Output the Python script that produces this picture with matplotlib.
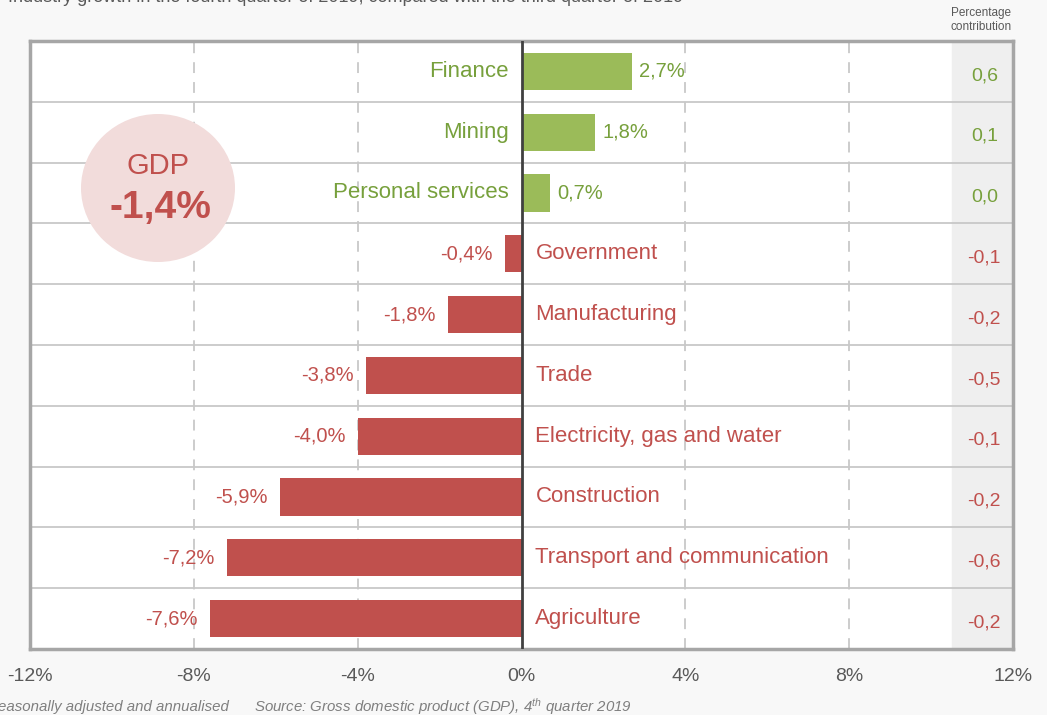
import numpy as np
import matplotlib
matplotlib.use("Agg")
import matplotlib.pyplot as plt
from matplotlib.patches import Ellipse

plt.rcParams['font.family'] = ['Liberation Sans', 'DejaVu Sans']
plt.rcParams['mathtext.fontset'] = 'custom'
plt.rcParams['mathtext.it'] = 'Liberation Sans:italic'
plt.rcParams['mathtext.rm'] = 'Liberation Sans:italic'

# --- data ---
industries = ["Finance", "Mining", "Personal services", "Government", "Manufacturing",
              "Trade", "Electricity, gas and water", "Construction",
              "Transport and communication", "Agriculture"]
growth = [2.7, 1.8, 0.7, -0.4, -1.8, -3.8, -4.0, -5.9, -7.2, -7.6]
contribution = [0.6, 0.1, 0.0, -0.1, -0.2, -0.5, -0.1, -0.2, -0.6, -0.2]
gdp = -1.4
xticks = [-12, -8, -4, 0, 4, 8, 12]

green_bar = '#9bbb59'
green_txt = '#77a03c'
red_bar = '#c0504d'
red_txt = '#c0504d'
grey_txt = '#595959'

def fmt(v, dec=1):
    return f"{v:.{dec}f}".replace('.', ',')

fig = plt.figure(figsize=(10.47, 7.15), dpi=100)
fig.patch.set_facecolor('#f8f8f8')
ax = fig.add_axes([30/1047, 66/715, 983/1047, 608/715])
ax.set_facecolor('white')

n = len(industries)
y = np.arange(n)
ax.set_xlim(-12, 12)
ax.set_ylim(n - 0.5, -0.5)

# contribution column shading
ax.axvspan(10.5, 12, color='#efefef', zorder=0)

# row separators and gridlines
for k in range(1, n):
    ax.axhline(k - 0.5, color='#c8c8c8', lw=1.3, zorder=1)
for gx in [-8, -4, 4, 8]:
    ax.axvline(gx, color='#c8c8c8', lw=1.3, ls=(0, (6, 5)), zorder=1)

colors = [green_bar if g > 0 else red_bar for g in growth]
ax.barh(y, growth, height=0.61, color=colors, zorder=3)
ax.axvline(0, color='#404040', lw=2, zorder=4)

for i, (name, g, c) in enumerate(zip(industries, growth, contribution)):
    if g > 0:
        ax.text(-0.32, i, name, ha='right', va='center', color=green_txt, fontsize=16)
        ax.text(g + 0.17, i, fmt(g) + '%', ha='left', va='center', color=green_txt, fontsize=14.5)
    else:
        ax.text(0.34, i, name, ha='left', va='center', color=red_txt, fontsize=16)
        ax.text(g - 0.3, i, fmt(g) + '%', ha='right', va='center', color=red_txt, fontsize=14.5)
    ctxt = green_txt if c >= 0 else red_txt
    ax.text(11.3, i + 0.07, fmt(c), ha='center', va='center', color=ctxt, fontsize=14)

# GDP bubble
circ = Ellipse((158/1047, 1 - 188/715), 154/1047, 148/715, transform=fig.transFigure,
               facecolor='#f2dcdb', edgecolor='none', zorder=5)
ax.add_patch(circ)
fig.text(158/1047, 1 - 166/715, "GDP", ha='center', va='center', color=red_txt, fontsize=21, zorder=6)
fig.text(160/1047, 1 - 208/715, fmt(gdp) + '%', ha='center', va='center', color=red_txt,
         fontsize=28, fontweight='bold', zorder=6)

# axes styling
ax.set_xticks(xticks)
ax.set_xticklabels([f"{t}%" for t in xticks], fontsize=14, color=grey_txt)
ax.set_yticks([])
ax.tick_params(axis='x', length=0, pad=14)
for s in ax.spines.values():
    s.set_color('#a6a6a6')
    s.set_linewidth(2.5)

# titles and notes
fig.text(8/1047, 1 + 2/715, "Industry growth in the fourth quarter of 2019, compared with the third quarter of 2019",
         ha='left', va='center', color=grey_txt, fontsize=13)
fig.text(981/1047, 1 - 13/715, "Percentage", ha='center', va='center', color=grey_txt, fontsize=8.5)
fig.text(981/1047, 1 - 27/715, "contribution", ha='center', va='center', color=grey_txt, fontsize=8.5)
fig.text(229/1047, 1 - 707/715, "Seasonally adjusted and annualised", ha='right', va='center',
         color='#7f7f7f', fontsize=10.8, style='italic')
fig.text(254/1047, 1 - 707/715, r"Source: Gross domestic product (GDP), 4$^{th}$ quarter 2019",
         ha='left', va='center', color='#7f7f7f', fontsize=10.8, style='italic')

fig.savefig("out.png", dpi=100, facecolor=fig.get_facecolor())
